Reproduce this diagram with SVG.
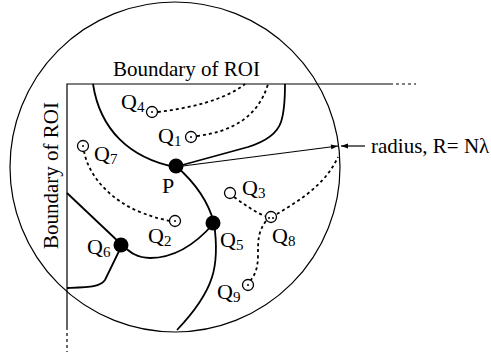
<svg xmlns="http://www.w3.org/2000/svg" width="491" height="356" viewBox="0 0 491 356">
<defs>
<style>
.ln{fill:none;stroke:#000;stroke-width:1.8}
.th{fill:none;stroke:#000;stroke-width:1.2}
.dt{fill:none;stroke:#000;stroke-width:1.8;stroke-dasharray:3,3}
.tx{font-family:"Liberation Serif","Times New Roman",serif;font-size:21px;fill:#000}
.lb{font-family:"Liberation Serif","Times New Roman",serif;font-size:22px;fill:#000}
.sb{font-size:15px}
.nd{fill:#000}
.sc{fill:#fff;stroke:#000;stroke-width:1.3}
</style>
<marker id="ah" viewBox="0 0 10 10" refX="10" refY="5" markerWidth="9" markerHeight="7" orient="auto" markerUnits="userSpaceOnUse">
<path d="M0,1.5 L10,5 L0,8.5 z" fill="#000"/>
</marker>
</defs>
<rect width="491" height="356" fill="#fff"/>
<g id="circle"><circle cx="175" cy="167" r="165" class="th"/></g>
<g id="boundary">
<path d="M67,330 L67,84 L393,84" class="th"/>
<path d="M396,84 L416,84" class="th" stroke-dasharray="3,3"/>
<path d="M67,333 L67,352" class="th" stroke-dasharray="3,3"/>
<text class="tx" x="113" y="76">Boundary of ROI</text>
<text class="tx" transform="translate(58,249) rotate(-90)">Boundary of ROI</text>
</g>
<g id="connectors">
<path d="M93,84 C100,130 130,158 175,167" class="ln"/>
<path d="M175,167 L248,147 C264,142 277,134 281,122 C285,110 285,95 285,84" class="ln"/>
<path d="M176,166 C192,180 208,200 214,223" class="ln"/>
<path d="M214,223 C220,265 215,290 177,330" class="ln"/>
<path d="M214,223 C195,245 175,258 150,258 C135,258 128,250 122,245" class="ln"/>
<path d="M122,245 L67,193" class="ln"/>
<path d="M122,245 L105,280 C100,287 90,287 67,288" class="ln"/>
<path d="M175,167 L338,146" class="th" marker-end="url(#ah)"/>
<path d="M365,146 L341,146" class="th" marker-end="url(#ah)"/>
<path d="M158,112 C190,108 225,100 245,84" class="dt"/>
<path d="M197,136 C230,132 258,118 268,84" class="dt"/>
<path d="M84,151 C88,175 110,200 140,212 C155,218 165,220 170,221" class="dt"/>
<path d="M234,197 C245,205 255,212 265,216" class="dt"/>
<path d="M277,214 C300,200 325,185 338,157" class="dt"/>
<path d="M266,221 C258,232 258,240 258,255 C258,268 255,275 250,281" class="dt"/>
</g>
<g id="P"><circle cx="176" cy="166" r="7.5" class="nd"/><text class="lb" x="162" y="193">P</text></g>
<g id="Q5"><circle cx="213" cy="223" r="7.5" class="nd"/><text class="lb" x="220" y="247">Q<tspan class="sb" dy="3">5</tspan></text></g>
<g id="Q6"><circle cx="121" cy="245" r="7.5" class="nd"/><text class="lb" x="87" y="254">Q<tspan class="sb" dy="3">6</tspan></text></g>
<g id="Q4"><circle cx="152" cy="112" r="5.5" class="sc"/><circle cx="152" cy="112" r="1" class="nd"/><text class="lb" x="121" y="109">Q<tspan class="sb" dy="3">4</tspan></text></g>
<g id="Q1"><circle cx="191" cy="137" r="5.5" class="sc"/><circle cx="191" cy="137" r="1" class="nd"/><text class="lb" x="158" y="143">Q<tspan class="sb" dy="3">1</tspan></text></g>
<g id="Q7"><circle cx="83" cy="146" r="5.5" class="sc"/><circle cx="83" cy="146" r="1" class="nd"/><text class="lb" x="94" y="161">Q<tspan class="sb" dy="3">7</tspan></text></g>
<g id="Q2"><circle cx="175" cy="221" r="5.5" class="sc"/><circle cx="175" cy="221" r="1" class="nd"/><text class="lb" x="148" y="243">Q<tspan class="sb" dy="3">2</tspan></text></g>
<g id="Q3"><circle cx="230" cy="193" r="5.5" class="sc"/><text class="lb" x="242" y="195">Q<tspan class="sb" dy="3">3</tspan></text></g>
<g id="Q8"><circle cx="271" cy="217" r="5.5" class="sc"/><circle cx="269" cy="218" r="1" class="nd"/><circle cx="273" cy="218" r="1" class="nd"/><text class="lb" x="272" y="243">Q<tspan class="sb" dy="3">8</tspan></text></g>
<g id="Q9"><circle cx="248" cy="285" r="5.5" class="sc"/><circle cx="248" cy="285" r="1" class="nd"/><text class="lb" x="217" y="299">Q<tspan class="sb" dy="3">9</tspan></text></g>
<g id="radius"><text class="tx" x="371" y="153">radius, R= Nλ</text></g>
</svg>
